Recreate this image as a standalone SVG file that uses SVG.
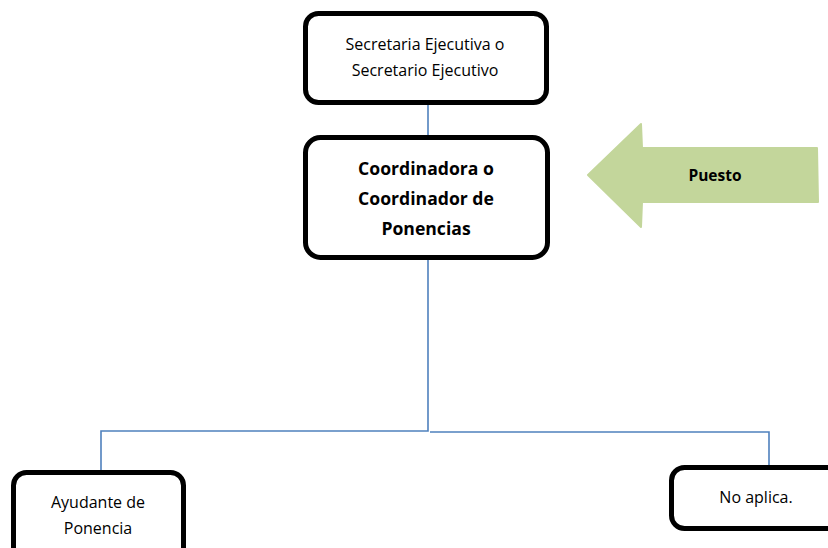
<svg xmlns="http://www.w3.org/2000/svg" width="828" height="548" viewBox="0 0 828 548">
<style>
.box{fill:#fff;stroke:#000;stroke-width:5}
.t{font-family:"Open Sans","Liberation Sans",sans-serif;font-size:16px;fill:#000;text-anchor:middle}
.b{font-family:"Open Sans","Liberation Sans",sans-serif;font-size:17.6px;font-weight:bold;fill:#000;text-anchor:middle}
.c{fill:none;stroke:#4F81BD;stroke-width:1.6}
</style>
<rect width="828" height="548" fill="#fff"/>
<g id="connectors">
<path class="c" d="M428,95 V137"/>
<path class="c" d="M428,257 V431 H101 V472"/>
<path class="c" d="M430,432 H769 V467"/>
</g>
<g id="n1">
<rect class="box" x="305.5" y="13.5" width="241" height="89" rx="13"/>
<text class="t" x="425" y="50">Secretaria Ejecutiva o</text>
<text class="t" x="425" y="76">Secretario Ejecutivo</text>
</g>
<g id="n2">
<rect class="box" x="305.5" y="137.5" width="242" height="120" rx="15"/>
<text class="b" x="426" y="175">Coordinadora o</text>
<text class="b" x="426" y="205">Coordinador de</text>
<text class="b" x="426" y="235">Ponencias</text>
</g>
<g id="puesto">
<path d="M588,175 L641,124 L642,148 L817,148 L818,202 L642,202 L641,227 Z" fill="#C3D69B" stroke="#C3D69B" stroke-width="2" stroke-linejoin="round"/>
<text class="b" x="715" y="181" style="font-size:15.5px">Puesto</text>
</g>
<g id="n3">
<rect class="box" x="13.5" y="472.5" width="170" height="90" rx="13"/>
<text class="t" x="98" y="508">Ayudante de</text>
<text class="t" x="98" y="534">Ponencia</text>
</g>
<g id="n4">
<rect class="box" x="671.5" y="467.5" width="180" height="61" rx="13"/>
<text class="t" x="756" y="503">No aplica.</text>
</g>
</svg>
